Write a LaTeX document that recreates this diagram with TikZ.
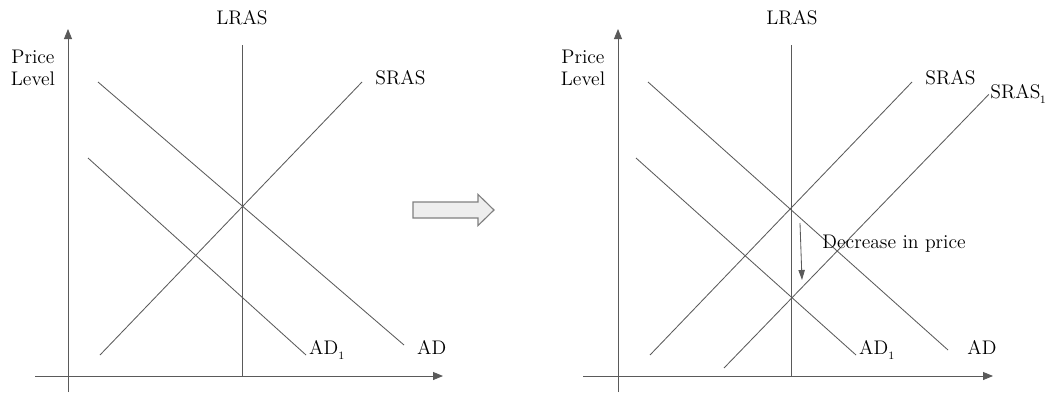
\documentclass[tikz,border=0pt]{standalone}
\usepackage{amsfonts,amssymb,amsmath}
\usepackage{xcolor}
\usepackage{tikz}
\usetikzlibrary{arrows.meta}
\definecolor{linegray}{HTML}{5A5A5A}
\definecolor{boxgray}{HTML}{EEEEEE}
\newcommand{\lowone}{\raisebox{-3.5pt}{\fontsize{8}{9}\selectfont 1}}

\begin{document}
\begin{tikzpicture}[>={Triangle[length=2.5mm,width=2mm]},line width=0.6pt,
  curve/.style={draw=linegray},
  axis/.style={draw=linegray,->},
  lbl/.style={inner sep=0pt,font=\fontsize{14}{16}\selectfont}]
\useasboundingbox (0,0) rectangle (26.2,9.8);
% left graph
\draw[axis](1.7,0)--(1.7,9.075);
\draw[axis](0.875,0.4)--(11.075,0.4);
\draw[curve](6.05,8.675)--(6.05,0.4);
\draw[curve](2.5,0.925)--(9.05,7.75);
\draw[curve](2.45,7.75)--(10.1,1.175);
\draw[curve](2.2,5.85)--(7.65,0.925);
\node[lbl] (lras) at (6.05,9.35) {LRAS};
\node[lbl,anchor=west] (sras) at (9.375,7.85) {SRAS};
\node[lbl,anchor=west] (ad) at (10.42,1.125) {AD};
\node[lbl,anchor=west] (adone) at (7.72,1.05) {AD\lowone};
\node[lbl,align=center] (price) at (0.825,8.1) {Price\\Level};
% shift arrow
\draw[draw=gray,fill=boxgray,line width=0.8pt](10.325,4.35)--(11.95,4.35)--(11.95,4.16)--(12.35,4.55)--(11.95,4.94)--(11.95,4.75)--(10.325,4.75)--cycle;
% right graph
\draw[axis](15.45,0)--(15.45,9.075);
\draw[axis](14.575,0.4)--(24.825,0.4);
\draw[curve](19.775,8.675)--(19.775,0.4);
\draw[curve](16.25,0.925)--(22.8,7.75);
\draw[curve](18.1,0.6)--(24.72,7.44);
\draw[curve](16.2,7.75)--(23.7,1.05);
\draw[curve](15.9,5.85)--(21.4,0.925);
\coordinate (top) at (20.0,4.225);
\coordinate (bot) at (20.05,2.8);
\draw[curve,-{Triangle[length=2.5mm,width=1.6mm]}](top)--(bot);
\node[lbl] (lrasb) at (19.8,9.35) {LRAS};
\node[lbl,anchor=west] (srasb) at (23.125,7.85) {SRAS};
\node[lbl,anchor=west] (srasone) at (24.75,7.45) {SRAS\kern-0.5pt\lowone};
\node[lbl,anchor=west] (adb) at (24.175,1.125) {AD};
\node[lbl,anchor=west] (adoneb) at (21.47,1.05) {AD\lowone};
\node[lbl,align=center] (priceb) at (14.575,8.1) {Price\\Level};
\node[lbl,anchor=west] (dec) at (20.55,3.7) {Decrease in price};
\end{tikzpicture}
\end{document}
